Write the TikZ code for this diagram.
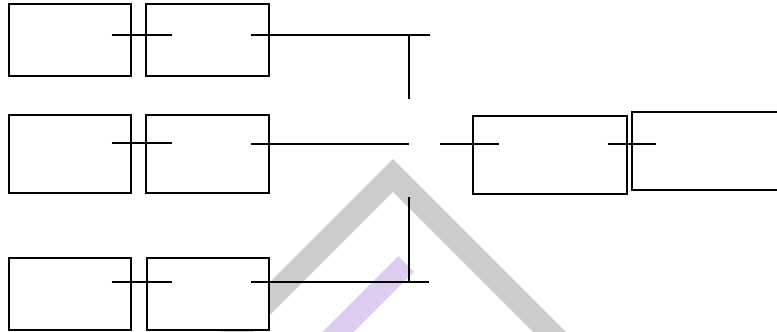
\documentclass[tikz,border=0pt]{standalone}
\usepackage{xcolor}
\usepackage{tikz}
\usetikzlibrary{positioning,calc}
\definecolor{wmgray}{HTML}{CCCCCC}
\definecolor{wmlilac}{HTML}{DDCDEF}
\tikzset{
  blk/.style={rectangle,draw=black,fill=white,line width=1.6pt,inner sep=0pt,minimum width=122pt,minimum height=72pt},
  wire/.style={line width=2.2pt,draw=black},
  mark1/.style={line width=23pt,draw=wmgray,line join=miter},
  mark2/.style={line width=22pt,draw=wmlilac},
}
\begin{document}
\begin{tikzpicture}[x=1pt,y=-1pt]
  \useasboundingbox (0,0) rectangle (777,332);
  \clip (0,0) rectangle (777,332);
  \draw[mark1] (193,375.5) -- (393,175.5) -- (593,375.5);
  \draw[mark2] (406,264) -- (306,364);
  \node[blk] (a1) at (70,40) {};
  \node[blk,minimum width=123pt] (b1) at (207.5,40) {};
  \node[blk,minimum height=78pt] (a2) at (70,154) {};
  \node[blk,minimum width=123pt,minimum height=78pt] (b2) at (207.5,154) {};
  \node[blk] (a3) at (70,294) {};
  \node[blk] (b3) at (208,294) {};
  \node[blk,minimum width=154pt,minimum height=78pt] (c) at (550,155) {};
  \node[blk,minimum width=160pt,minimum height=78pt] (d) at (712,151) {};
  \coordinate (top) at (409,35);
  \coordinate (topend) at (430,35);
  \coordinate (jt) at (409,99);
  \coordinate (jl) at (409,144);
  \coordinate (jr) at (440,144);
  \coordinate (jb) at (409,197);
  \coordinate (bot) at (409,282);
  \coordinate (botend) at (429,282);
  \draw[wire] ([shift={(-20,-5)}]a1.east) -- ([shift={(27,-5)}]b1.west);
  \draw[wire] ([shift={(-19,-5)}]b1.east) -- (topend);
  \draw[wire] (top) -- (jt);
  \draw[wire] ([shift={(-20,-11)}]a2.east) -- ([shift={(27,-11)}]b2.west);
  \draw[wire] ([shift={(-19,-10)}]b2.east) -- (jl);
  \draw[wire] (jr) -- ([shift={(27,-11)}]c.west);
  \draw[wire] ([shift={(-20,-11)}]c.east) -- ([shift={(25,-7)}]d.west);
  \draw[wire] ([shift={(-20,-12)}]a3.east) -- ([shift={(26,-12)}]b3.west);
  \draw[wire] ([shift={(-19,-12)}]b3.east) -- (botend);
  \draw[wire] (jb) -- (bot);
\end{tikzpicture}
\end{document}
